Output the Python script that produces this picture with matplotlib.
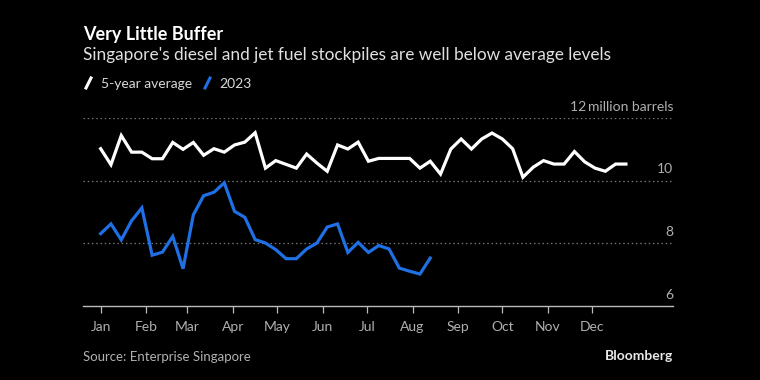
import numpy as np
import pandas as pd
import matplotlib
matplotlib.use('Agg')
import matplotlib.pyplot as plt
from matplotlib.lines import Line2D

plt.rcParams['font.family'] = ['Lato', 'DejaVu Sans']

# weekly stockpiles, million barrels
avg_5yr = [11.02, 10.51, 11.44, 10.91, 10.91, 10.70, 10.70, 11.22, 11.00, 11.22,
           10.81, 11.02, 10.91, 11.14, 11.23, 11.53, 10.40, 10.64, 10.52, 10.40,
           10.85, 10.56, 10.30, 11.14, 11.01, 11.23, 10.62, 10.71, 10.71, 10.71,
           10.71, 10.40, 10.62, 10.21, 11.01, 11.33, 11.01, 11.33, 11.52, 11.33,
           11.02, 10.11, 10.43, 10.64, 10.53, 10.53, 10.93, 10.60, 10.40, 10.30,
           10.53, 10.53]
y2023 = [8.31, 8.62, 8.11, 8.72, 9.13, 7.62, 7.72, 8.22, 7.19, 8.91,
         9.52, 9.63, 9.93, 9.02, 8.83, 8.12, 8.01, 7.80, 7.51, 7.51,
         7.82, 8.01, 8.52, 8.62, 7.71, 8.03, 7.71, 7.93, 7.82, 7.21,
         7.11, 7.02, 7.53]
dates = pd.date_range('2023-01-01', periods=len(avg_5yr), freq='7D')
months = ['Jan', 'Feb', 'Mar', 'Apr', 'May', 'Jun', 'Jul', 'Aug', 'Sep', 'Oct', 'Nov', 'Dec']
yticks = [6, 8, 10, 12]

BLUE = '#1f6fe5'
GREY = '#b0b0b0'

W, H = 760, 380
fig = plt.figure(figsize=(7.6, 3.8), dpi=100, facecolor='black')
ax = fig.add_axes([83 / W, 1 - 306 / H, (673 - 83) / W, (306 - 118) / H])
ax.set_facecolor('black')

for yv in yticks[1:]:
    ax.axhline(yv, color='#777777', lw=0.9, ls=(0, (1.2, 2.2)), zorder=1)

ax.plot(dates, avg_5yr, color='white', lw=2.3, zorder=3, clip_on=False,
        solid_joinstyle='miter')
ax.plot(dates[:len(y2023)], y2023, color=BLUE, lw=2.3, zorder=3, clip_on=False,
        solid_joinstyle='miter')

ax.set_ylim(6, 12)
ax.set_xlim(pd.Timestamp('2022-12-20'), pd.Timestamp('2024-01-25'))
ax.set_yticks([])
for s in ['top', 'right', 'left']:
    ax.spines[s].set_visible(False)
ax.spines['bottom'].set_color('#bbbbbb')
ax.spines['bottom'].set_linewidth(1.0)

ax.set_xticks(pd.date_range('2023-01-01', periods=12, freq='MS'))
ax.set_xticklabels(months)
ax.tick_params(axis='x', colors='#bbbbbb', length=5, width=0.9, pad=6,
               labelsize=10, labelcolor=GREY)

for yv in yticks:
    lab = '12\u2009million barrels' if yv == 12 else str(yv)
    ax.text(1.0, yv + 0.17, lab, transform=ax.get_yaxis_transform(), ha='right',
            va='bottom', fontsize=10, color=GREY)

fig.text(83 / W, 1 - 40 / H, 'Very Little Buffer', fontsize=13,
         fontweight='bold', color='white', va='baseline')
fig.text(83 / W, 1 - 60 / H, "Singapore's diesel and jet fuel stockpiles are well below average levels",
         fontsize=12.4, color='#e0e0e0', va='baseline')

# legend
fig.add_artist(Line2D([86 / W, 91 / W], [1 - 88 / H, 1 - 78 / H], color='white', lw=2.2))
fig.text(101 / W, 1 - 88 / H, '5-year average', fontsize=10, color='#d8d8d8', va='baseline')
fig.add_artist(Line2D([205 / W, 210 / W], [1 - 88 / H, 1 - 78 / H], color=BLUE, lw=2.2))
fig.text(219 / W, 1 - 88 / H, '2023', fontsize=10, color='#d8d8d8', va='baseline')

fig.text(83 / W, 1 - 357 / H, 'Source: Enterprise Singapore', fontsize=9.5,
         color=GREY, va='center')
fig.text(673 / W, 1 - 356 / H, 'Bloomberg', fontsize=10, fontweight='bold',
         color='#e8e8e8', va='center', ha='right')

fig.savefig('out.png', dpi=100, facecolor='black')
